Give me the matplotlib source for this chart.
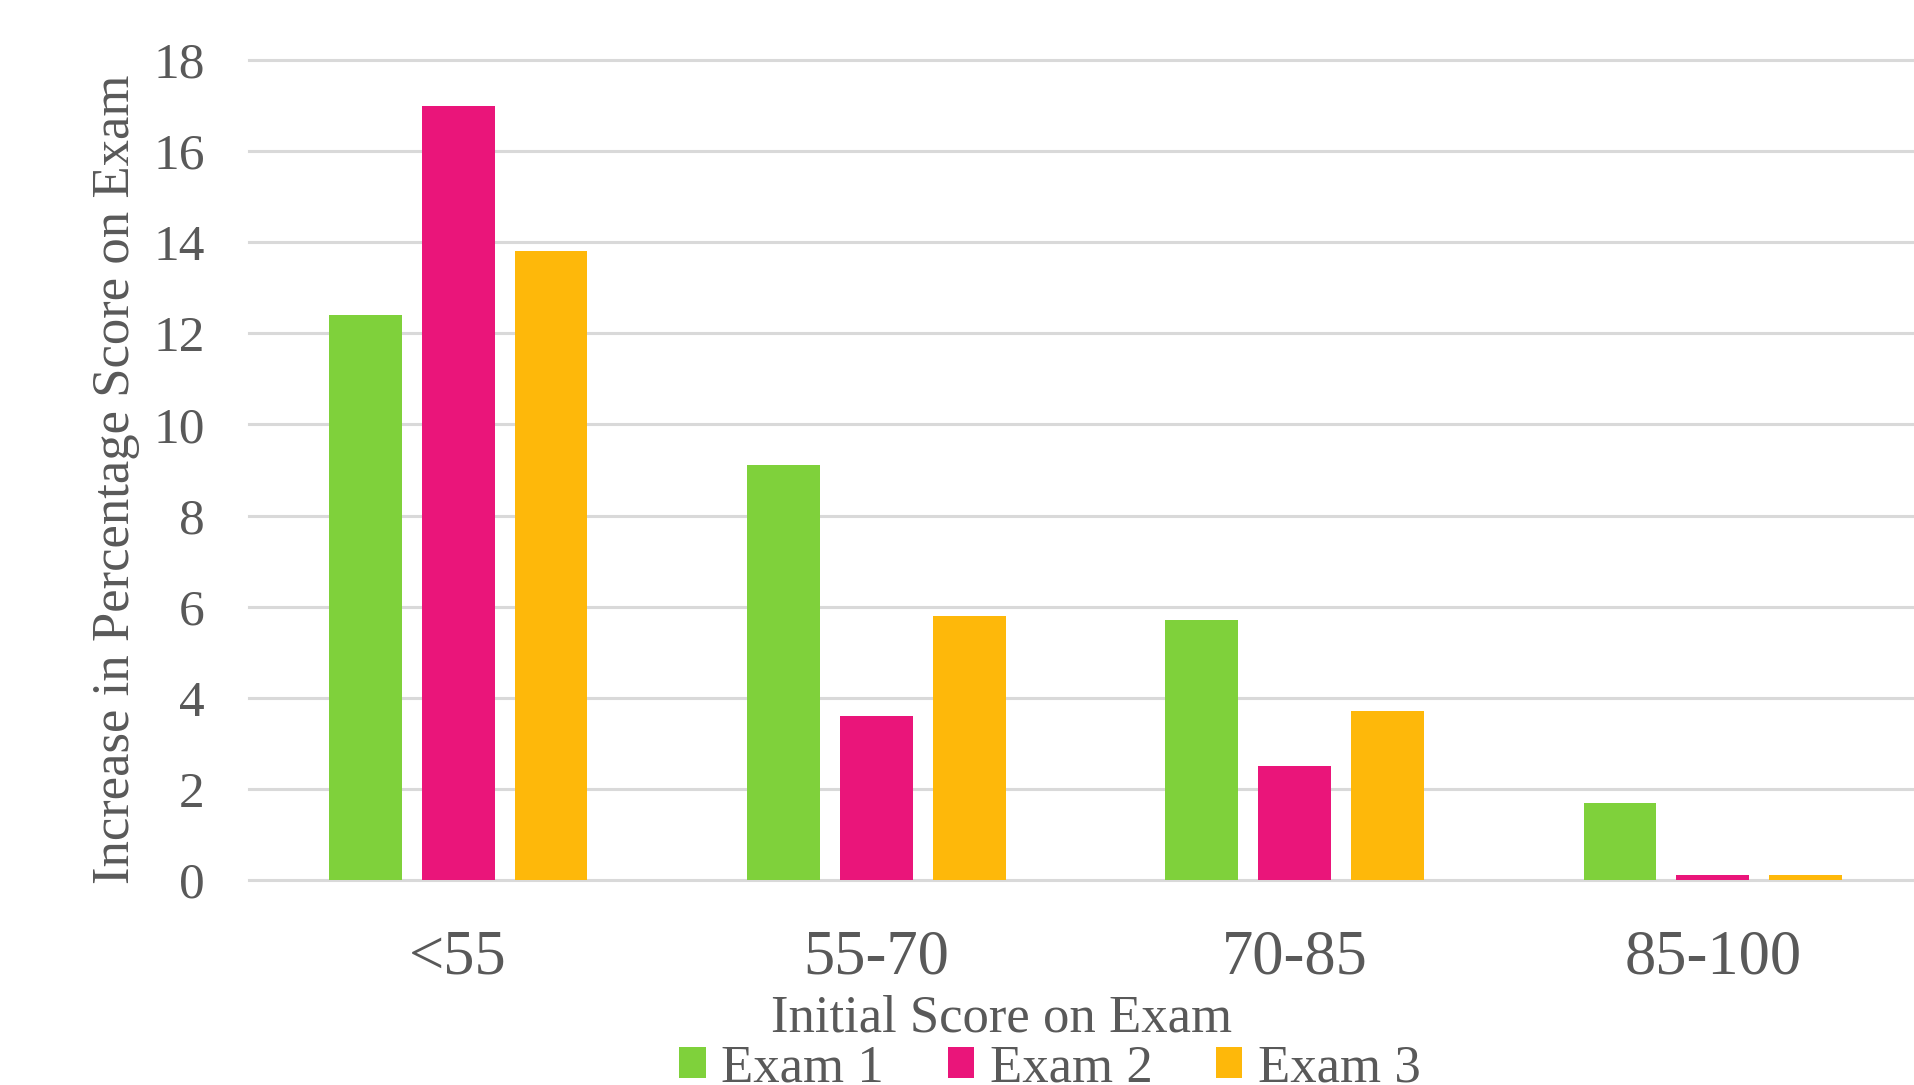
import matplotlib
matplotlib.use("Agg")
import matplotlib.pyplot as plt
from matplotlib.patches import Patch
import numpy as np

# data
categories = ["<55", "55-70", "70-85", "85-100"]
exam1 = [12.4, 9.1, 5.7, 1.7]
exam2 = [17.0, 3.6, 2.5, 0.1]
exam3 = [13.8, 5.8, 3.7, 0.1]
series_names = ["Exam 1", "Exam 2", "Exam 3"]
y_ticks = [0, 2, 4, 6, 8, 10, 12, 14, 16, 18]

colors = ["#7FD13B", "#EA157A", "#FEB80A"]
text_col = "#595959"
grid_col = "#D9D9D9"

plt.rcParams["font.family"] = ["Liberation Serif", "DejaVu Serif"]

fig = plt.figure(figsize=(19.15, 10.85), dpi=100)
ax = fig.add_axes([249/1915, 1 - 880/1085, (1922 - 249)/1915, (880 - 60)/1085])

x = np.arange(len(categories))
step = 0.222
width = 0.174
for i, vals in enumerate([exam1, exam2, exam3]):
    ax.bar(x + (i - 1)*step, vals, width=width, color=colors[i], zorder=3)

ax.set_xlim(-0.5, 3.5)
ax.set_ylim(0, 18)
ax.set_yticks(y_ticks)
ax.set_xticks(x)
ax.set_xticklabels(categories)

ax.yaxis.grid(True, color=grid_col, linewidth=2.2)
for gl in ax.get_ygridlines():
    gl.set_clip_on(False)
ax.set_axisbelow(True)
for s in ax.spines.values():
    s.set_visible(False)

ax.tick_params(axis="y", length=0, pad=32, labelsize=37, labelcolor=text_col)
ax.tick_params(axis="x", length=0, pad=36, labelsize=45, labelcolor=text_col)

fig.text(116/1915, 1 - 479/1085, "Increase in Percentage Score on Exam",
         rotation=90, ha="center", va="center", fontsize=38, color=text_col)
fig.text(1002/1915, 1 - 1032/1085, "Initial Score on Exam",
         ha="center", va="baseline", fontsize=38, color=text_col)

# legend sits at the very bottom edge, as in the original
handles = [Patch(facecolor=c, edgecolor="none") for c in colors]
leg = fig.legend(handles, series_names, loc="lower center", ncol=3,
                 bbox_to_anchor=(1050/1915, -0.031), frameon=False,
                 fontsize=38, handlelength=0.5, handleheight=0.5,
                 handletextpad=0.3, columnspacing=1.2, borderpad=0)
for t in leg.get_texts():
    t.set_color(text_col)

fig.savefig("out.png", dpi=100)
